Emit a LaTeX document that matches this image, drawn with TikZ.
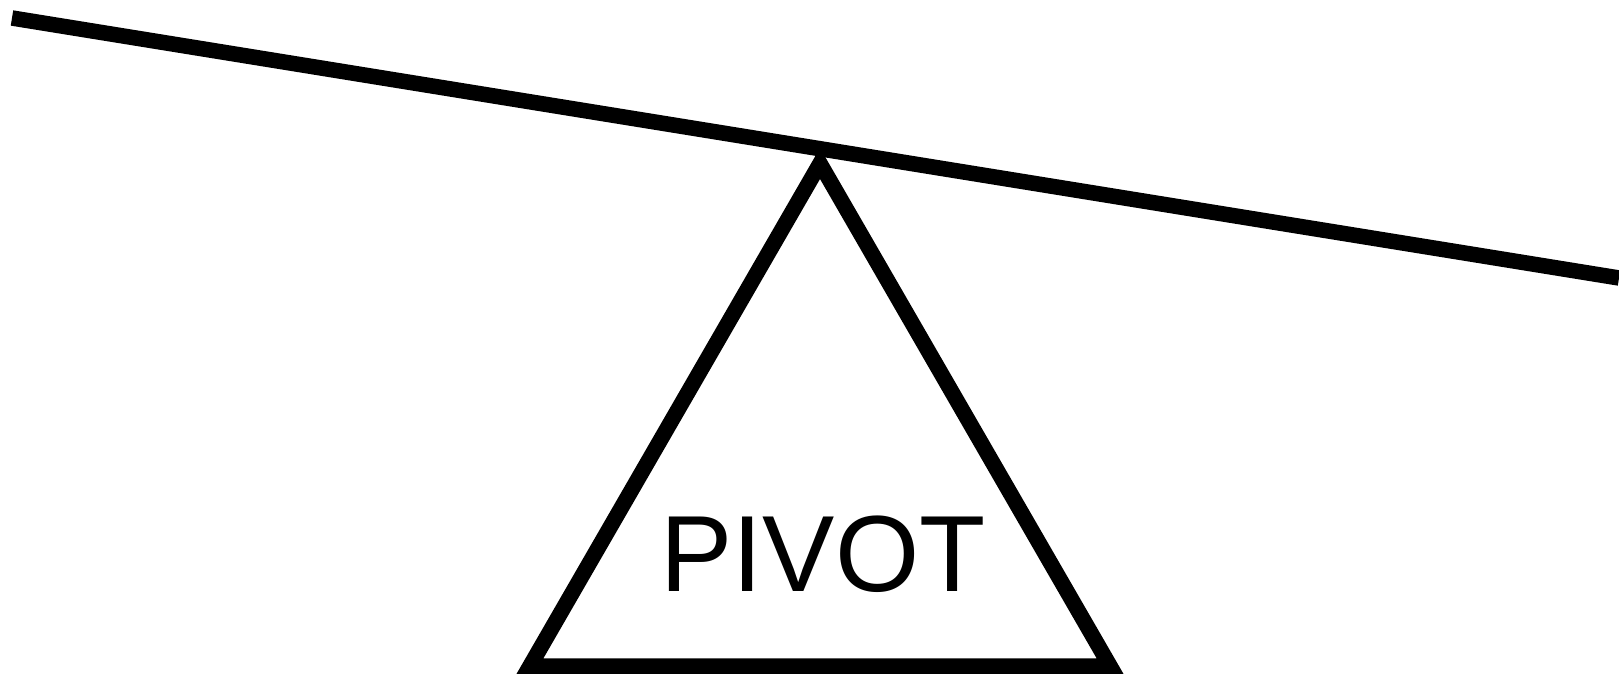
\documentclass[tikz,border=0pt]{standalone}
\usepackage{fontspec}
\setmainfont{Liberation Sans}
\usetikzlibrary{calc}

\begin{document}
\begin{tikzpicture}[
  x=0.01cm, y=-0.01cm,
  %% ── styles ───────────────────────────────────────────────────────────────
  beam/.style  = {line width=0.155cm, line cap=butt},
  prism/.style = {line width=0.155cm, line join=miter},
  lbl/.style   = {inner sep=0pt, anchor=base,
                  font=\fontsize{30.8}{36}\selectfont},
]
\useasboundingbox (0,0) rectangle (1619,673);

%% ── fulcrum ──────────────────────────────────────────────────────────────
\coordinate (apex)  at (820,163.5);
\coordinate (baseL) at (530,666);
\coordinate (baseR) at (1110,666);
\draw[prism] (apex) -- (baseR) -- (baseL) -- cycle;
\node[lbl] (pivot) at (823,591.5) {PIVOT};

%% ── lever ────────────────────────────────────────────────────────────────
\coordinate (beamL) at (12,18);
\coordinate (beamR) at (1619,278);
\draw[beam] (beamL) -- (beamR);

\end{tikzpicture}
\end{document}
